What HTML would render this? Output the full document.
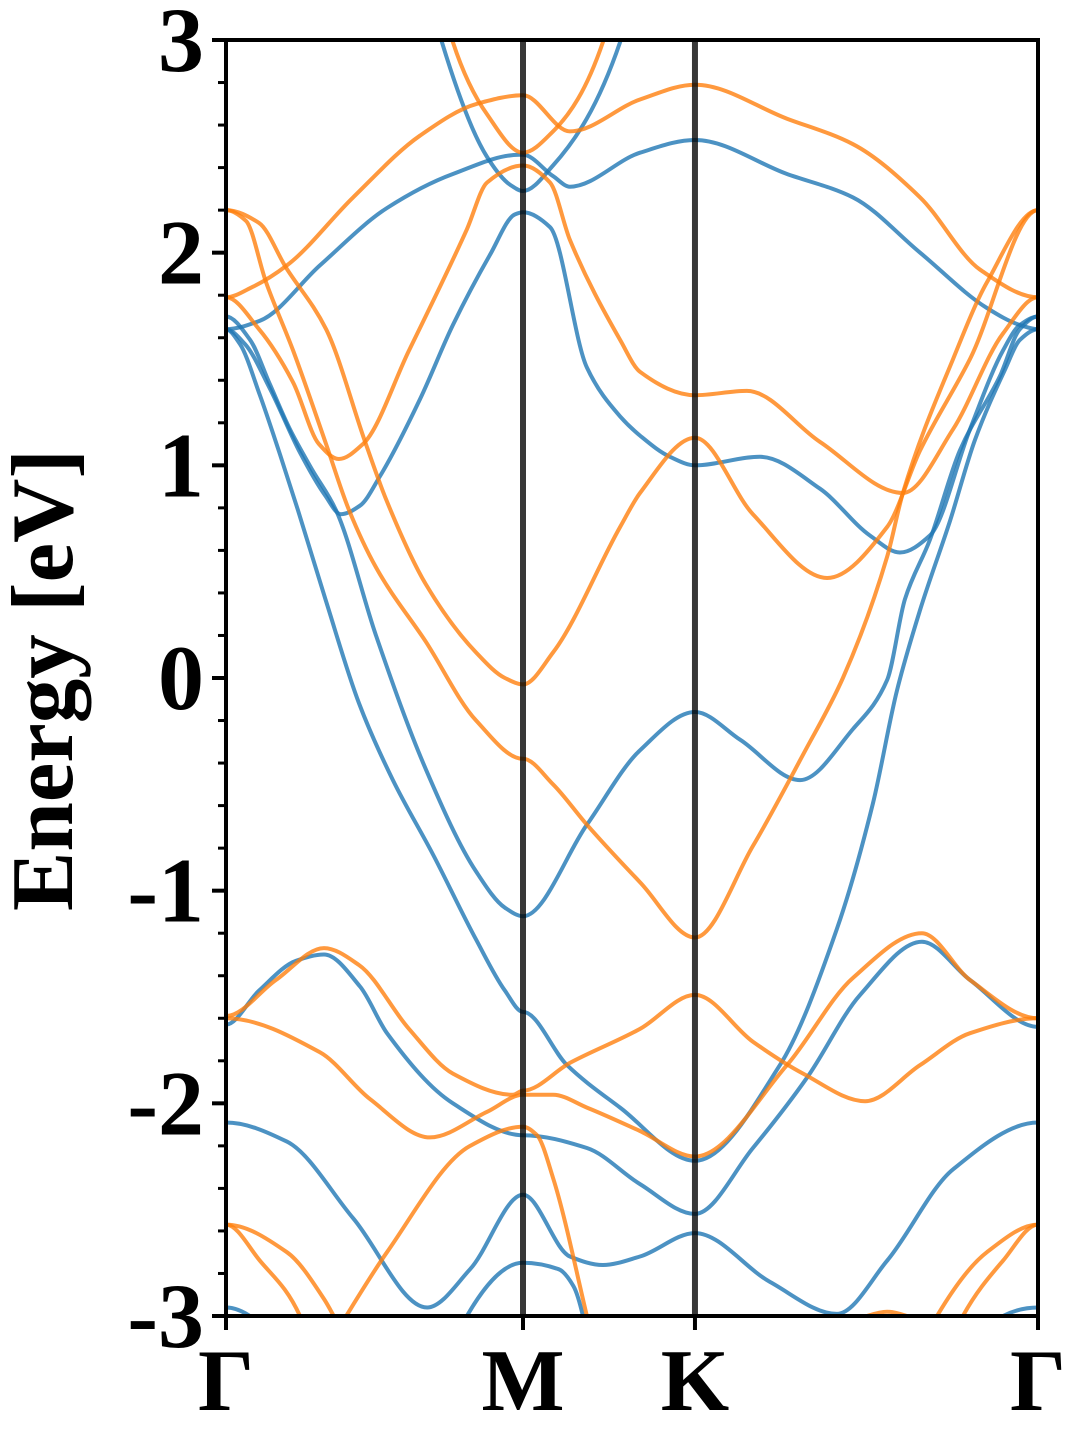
<!DOCTYPE html>
<html><head><meta charset="utf-8"><style>
html,body{margin:0;padding:0;background:#fff;}
svg{display:block;}
text{font-family:"Liberation Serif","Times New Roman",serif;font-weight:bold;fill:#000;}
</style></head><body>
<svg id="chart" width="1080" height="1440" viewBox="0 0 1080 1440">
<defs><clipPath id="plotclip"><rect x="226" y="40" width="812" height="1276"/></clipPath></defs>
<g id="bands" clip-path="url(#plotclip)"></g>
<g id="axes"></g>
</svg>
<script>
// ---- data ----
const kLabels = ["Γ","M","K","Γ"];
const kPoints = [0, 1, 1.579, 2.734];
const yTicks = [-3,-2,-1,0,1,2,3];
const yTickLabels = ["-3","-2","-1","0","1","2","3"];
const yMin = -3, yMax = 3;

const blueA = [[0,1.64],[0.047,1.57],[0.114,1.33],[0.182,1.05],[0.242,0.79],[0.337,0.36],[0.448,-0.12],[0.562,-0.48],[0.697,-0.83],[0.842,-1.23],[0.939,-1.47],[1,-1.57],[1.148,-1.82],[1.327,-2.02],[1.579,-2.27],[1.865,-1.82],[2.057,-1.18],[2.178,-0.59],[2.259,-0.06],[2.337,0.32],[2.438,0.74],[2.522,1.12],[2.623,1.45],[2.673,1.59],[2.734,1.64]];
const blueB = [[0,1.70],[0.081,1.59],[0.148,1.38],[0.215,1.17],[0.290,0.98],[0.370,0.79],[0.505,0.20],[0.673,-0.43],[0.842,-0.91],[0.939,-1.08],[1,-1.12],[1.215,-0.69],[1.394,-0.34],[1.579,-0.16],[1.731,-0.29],[1.933,-0.48],[2.111,-0.24],[2.226,-0.01],[2.286,0.37],[2.370,0.65],[2.471,1.07],[2.606,1.42],[2.673,1.64],[2.734,1.70]];
const blueC = [[0,1.64],[0.064,1.57],[0.148,1.36],[0.249,1.06],[0.333,0.86],[0.387,0.77],[0.451,0.81],[0.519,0.95],[0.653,1.31],[0.764,1.66],[0.889,1.99],[0.973,2.18],[1,2.19],[1.091,2.12],[1.215,1.46],[1.327,1.23],[1.394,1.14],[1.495,1.04],[1.579,1.00],[1.798,1.04],[2.0,0.89],[2.168,0.67],[2.269,0.59],[2.370,0.67],[2.505,1.17],[2.616,1.54],[2.673,1.66],[2.734,1.70]];
const blueD = [[0,1.64],[0.114,1.68],[0.316,1.94],[0.542,2.21],[0.764,2.37],[0.987,2.46],[1,2.46],[1.101,2.36],[1.158,2.31],[1.394,2.47],[1.579,2.53],[1.889,2.37],[2.111,2.26],[2.337,2.00],[2.562,1.74],[2.673,1.66],[2.734,1.64]];
const blueE = [[0.69,3.2],[0.727,2.99],[0.879,2.45],[0.956,2.32],[1,2.29],[1.101,2.41],[1.327,2.99],[1.36,3.2]];
const blueF = [[0,-1.63],[0.111,-1.47],[0.236,-1.33],[0.330,-1.30],[0.451,-1.45],[0.542,-1.67],[0.764,-2.00],[1,-2.15],[1.215,-2.21],[1.394,-2.38],[1.579,-2.52],[1.774,-2.21],[1.956,-1.88],[2.135,-1.49],[2.343,-1.24],[2.505,-1.42],[2.734,-1.64]];
const blueG = [[0,-2.09],[0.205,-2.18],[0.428,-2.54],[0.677,-2.96],[0.822,-2.78],[1,-2.43],[1.158,-2.72],[1.269,-2.76],[1.394,-2.72],[1.579,-2.61],[1.832,-2.84],[2.057,-2.99],[2.226,-2.74],[2.448,-2.31],[2.734,-2.09]];
const blueH = [[0.78,-3.15],[0.811,-3.0],[1,-2.75],[1.120,-2.78],[1.170,-2.86],[1.202,-3.0],[1.22,-3.15]];
const blueI1 = [[0,-2.96],[0.10,-3.02],[0.13,-3.1]];
const blueI2 = [[2.58,-3.1],[2.616,-3.0],[2.734,-2.96]];

const orangeTop = [[0,1.79],[0.091,1.84],[0.205,1.94],[0.428,2.26],[0.653,2.55],[0.845,2.70],[1,2.74],[1.158,2.57],[1.394,2.72],[1.579,2.79],[1.889,2.63],[2.111,2.51],[2.337,2.26],[2.539,1.92],[2.734,1.79]];
const orangeB = [[0,1.79],[0.111,1.64],[0.226,1.39],[0.313,1.10],[0.380,1.03],[0.461,1.10],[0.616,1.54],[0.811,2.11],[0.879,2.33],[1,2.41],[1.091,2.33],[1.158,2.06],[1.327,1.59],[1.394,1.44],[1.579,1.33],[1.754,1.35],[2.0,1.11],[2.279,0.87],[2.448,1.17],[2.616,1.62],[2.734,1.79]];
const orangeC = [[0.73,3.2],[0.764,2.99],[0.879,2.65],[1,2.47],[1.101,2.57],[1.269,2.99],[1.30,3.2]];
const orangeD = [[0,2.20],[0.111,2.14],[0.202,1.93],[0.337,1.64],[0.471,1.10],[0.539,0.84],[0.673,0.44],[0.842,0.12],[0.939,0.0],[1,-0.03],[1.101,0.12],[1.327,0.71],[1.394,0.87],[1.579,1.13],[1.774,0.77],[2.024,0.47],[2.226,0.71],[2.337,1.07],[2.505,1.50],[2.734,2.20]];
const orangeE = [[0,2.20],[0.067,2.15],[0.135,1.86],[0.226,1.54],[0.337,1.10],[0.414,0.79],[0.505,0.52],[0.673,0.17],[0.842,-0.20],[1,-0.38],[1.101,-0.50],[1.215,-0.69],[1.394,-0.96],[1.579,-1.22],[1.774,-0.79],[1.943,-0.36],[2.077,0.0],[2.226,0.57],[2.279,0.87],[2.448,1.50],[2.562,1.86],[2.734,2.20]];
const orangeF = [[0,-1.59],[0.168,-1.42],[0.330,-1.27],[0.448,-1.35],[0.616,-1.65],[0.764,-1.86],[0.966,-1.96],[1,-1.94],[1.158,-1.81],[1.394,-1.65],[1.579,-1.49],[1.774,-1.71],[1.943,-1.86],[2.152,-1.99],[2.337,-1.82],[2.505,-1.67],[2.734,-1.60]];
const orangeG = [[0,-1.60],[0.316,-1.76],[0.485,-1.98],[0.687,-2.16],[0.879,-2.04],[1,-1.96],[1.101,-1.96],[1.215,-2.02],[1.394,-2.13],[1.579,-2.25],[1.889,-1.82],[2.111,-1.41],[2.343,-1.20],[2.505,-1.42],[2.734,-1.60]];
const orangeH1 = [[0,-2.57],[0.205,-2.70],[0.330,-2.92],[0.40,-3.1]];
const orangeH2 = [[0.36,-3.1],[0.542,-2.70],[0.822,-2.20],[1,-2.11],[1.047,-2.15],[1.101,-2.35],[1.215,-3.0],[1.24,-3.15]];
const orangeI = [[0,-2.57],[0.114,-2.74],[0.249,-3.0],[0.27,-3.1]];
const orangeJ = [[2.05,-3.1],[2.158,-3.0],[2.226,-2.98],[2.293,-3.0],[2.40,-3.1]];
const orangeK = [[2.36,-3.1],[2.394,-3.0],[2.562,-2.70],[2.734,-2.57]];
const orangeL = [[2.45,-3.1],[2.481,-3.0],[2.616,-2.74],[2.734,-2.57]];

const blueBands = [blueA,blueB,blueC,blueD,blueE,blueF,blueG,blueH,blueI1,blueI2];
const orangeBands = [orangeTop,orangeB,orangeC,orangeD,orangeE,orangeF,orangeG,orangeH1,orangeH2,orangeI,orangeJ,orangeK,orangeL];

// ---- axes functions ----
const X0 = 226, X1 = 1038, Y0 = 40, Y1 = 1316;
const kMax = kPoints[kPoints.length-1];
function xs(k){ return X0 + (k / kMax) * (X1 - X0); }
function ys(e){ return Y1 - (e - yMin) / (yMax - yMin) * (Y1 - Y0); }

const NS = "http://www.w3.org/2000/svg";
function mk(tag, attrs){ const el = document.createElementNS(NS, tag); for (const a in attrs) el.setAttribute(a, attrs[a]); return el; }

function isSym(k){ return kPoints.some(p => Math.abs(p - k) < 1e-6); }

// monotone (Fritsch–Butland) cubic Hermite, zero slope at high-symmetry points
function pathFor(pts){
  const n = pts.length;
  const m = [];
  for (let i = 0; i < n; i++){
    if (isSym(pts[i][0])){ m.push(0); continue; }
    if (i === 0) { m.push((pts[1][1]-pts[0][1])/(pts[1][0]-pts[0][0])); continue; }
    if (i === n-1) { m.push((pts[n-1][1]-pts[n-2][1])/(pts[n-1][0]-pts[n-2][0])); continue; }
    const h0 = pts[i][0]-pts[i-1][0], h1 = pts[i+1][0]-pts[i][0];
    const d0 = (pts[i][1]-pts[i-1][1])/h0, d1 = (pts[i+1][1]-pts[i][1])/h1;
    if (d0*d1 <= 0) { m.push(0); continue; }
    m.push(3*(h0+h1)/((2*h1+h0)/d0 + (h1+2*h0)/d1));
  }
  let s = "M" + xs(pts[0][0]).toFixed(1) + "," + ys(pts[0][1]).toFixed(1);
  for (let i = 0; i < n-1; i++){
    const h = pts[i+1][0]-pts[i][0];
    const c1k = pts[i][0] + h/3, c1e = pts[i][1] + m[i]*h/3;
    const c2k = pts[i+1][0] - h/3, c2e = pts[i+1][1] - m[i+1]*h/3;
    s += " C" + xs(c1k).toFixed(1)+","+ys(c1e).toFixed(1)+" "+xs(c2k).toFixed(1)+","+ys(c2e).toFixed(1)+" "+xs(pts[i+1][0]).toFixed(1)+","+ys(pts[i+1][1]).toFixed(1);
  }
  return s;
}

const bandsG = document.getElementById("bands");
const axesG = document.getElementById("axes");

blueBands.forEach((b, i) => {
  const el = mk("path", {d: pathFor(b), fill:"none", stroke:"#1f77b4", "stroke-width":"4", "stroke-opacity":"0.8"});
  
  
  bandsG.appendChild(el);
});
orangeBands.forEach((b, i) => {
  const el = mk("path", {d: pathFor(b), fill:"none", stroke:"#ff7f0e", "stroke-width":"4", "stroke-opacity":"0.8"});
  
  
  bandsG.appendChild(el);
});

// high-symmetry vertical lines
kPoints.forEach((k, i) => {
  const el = mk("line", {x1: xs(k), x2: xs(k), y1: Y0, y2: Y1, stroke:"#000", "stroke-opacity":"0.78", "stroke-width": (i===0||i===kPoints.length-1) ? "3" : "6"});
  
  
  axesG.appendChild(el);
});

// frame
const frame = mk("rect", {x: X0, y: Y0, width: X1-X0, height: Y1-Y0, fill:"none", stroke:"#000", "stroke-width":"4"});


axesG.appendChild(frame);

// y ticks major and minor
for (let v = yMin; v <= yMax + 1e-9; v += 0.2){
  const vv = Math.round(v*10)/10;
  const major = Math.abs(vv - Math.round(vv)) < 1e-6;
  const t = mk("line", {x1: X0 - (major ? 14 : 8), x2: X0, y1: ys(vv), y2: ys(vv), stroke:"#000", "stroke-width": major ? "4" : "3"});
  
  
  axesG.appendChild(t);
}
yTicks.forEach((v, i) => {
  const tx = mk("text", {x: 204, y: ys(v) + 31, "text-anchor":"end", "font-size":"92"});
  tx.textContent = yTickLabels[i];
  
  
  axesG.appendChild(tx);
});
// x ticks
kPoints.forEach((k, i) => {
  const t = mk("line", {x1: xs(k), x2: xs(k), y1: Y1, y2: Y1 + 14, stroke:"#000", "stroke-width":"4"});
  
  
  axesG.appendChild(t);
  const tx = mk("text", {x: xs(k), y: 1410, "text-anchor":"middle", "font-size":"88"});
  tx.textContent = kLabels[i];
  
  
  axesG.appendChild(tx);
});
// y axis title
const yt = mk("text", {x: 0, y: 0, "text-anchor":"middle", "font-size":"88", transform:"translate(72,680) rotate(-90)", textLength:"462", lengthAdjust:"spacingAndGlyphs"});
yt.textContent = "Energy [eV]";


axesG.appendChild(yt);
</script>
</body></html>
